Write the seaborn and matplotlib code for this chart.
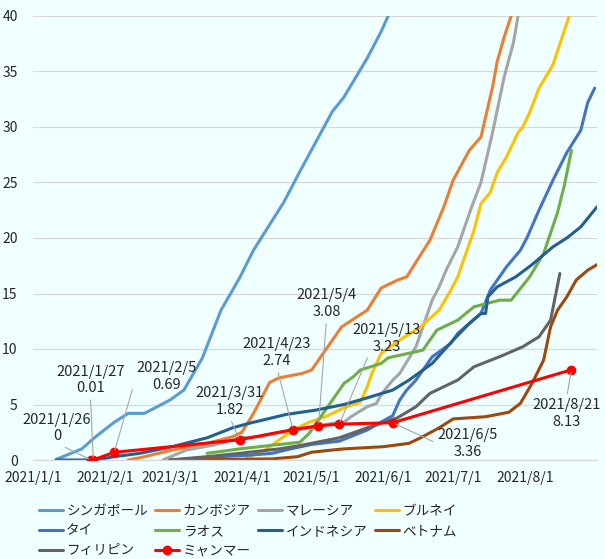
import pandas as pd
import matplotlib
matplotlib.use('Agg')
import matplotlib.pyplot as plt
import seaborn as sns

# ---------------- data ----------------
sg_dates = ['2021-01-11', '2021-01-22', '2021-01-28', '2021-02-05', '2021-02-11', '2021-02-18',
            '2021-03-01', '2021-03-07', '2021-03-15', '2021-03-23', '2021-03-31', '2021-04-06',
            '2021-04-19', '2021-04-26', '2021-05-10', '2021-05-15', '2021-05-25', '2021-05-31',
            '2021-06-03', '2021-06-08']
sg_vals = [0.05, 1.0, 2.1, 3.4, 4.2, 4.2, 5.4, 6.3, 9.2, 13.5, 16.4, 18.9,
           23.2, 26.0, 31.4, 32.7, 36.2, 38.6, 40.0, 42.0]

kh_dates = ['2021-02-11', '2021-02-16', '2021-03-02', '2021-03-17', '2021-03-28', '2021-04-01',
            '2021-04-06', '2021-04-09', '2021-04-13', '2021-04-17', '2021-04-27', '2021-05-01',
            '2021-05-07', '2021-05-14', '2021-05-25', '2021-05-31', '2021-06-07', '2021-06-11',
            '2021-06-21', '2021-06-27', '2021-07-01', '2021-07-08', '2021-07-13', '2021-07-15',
            '2021-07-18', '2021-07-20', '2021-07-23', '2021-07-26', '2021-07-29']
kh_vals = [0.0, 0.2, 0.9, 1.5, 2.1, 2.5, 4.2, 5.4, 7.0, 7.4, 7.8, 8.1,
           9.9, 12.0, 13.5, 15.5, 16.2, 16.5, 19.8, 22.8, 25.2, 27.9, 29.1, 30.9,
           33.6, 35.9, 38.1, 40.0, 42.0]

my_dates = ['2021-02-26', '2021-03-08', '2021-03-20', '2021-03-31', '2021-04-09', '2021-04-15',
            '2021-04-25', '2021-05-10', '2021-05-15', '2021-05-18', '2021-05-25', '2021-05-29',
            '2021-05-31', '2021-06-05', '2021-06-08', '2021-06-15', '2021-06-22', '2021-06-25',
            '2021-06-28', '2021-07-03', '2021-07-09', '2021-07-13', '2021-07-18', '2021-07-23',
            '2021-07-27', '2021-07-29', '2021-07-31']
my_vals = [0.0, 0.9, 1.35, 2.0, 2.1, 2.4, 2.7, 3.3, 3.4, 3.9, 4.8, 5.1,
           5.9, 7.2, 7.8, 10.2, 14.4, 15.6, 17.1, 19.2, 22.8, 25.0, 29.5, 34.5,
           37.6, 40.0, 42.0]

bn_dates = ['2021-04-03', '2021-04-11', '2021-04-17', '2021-04-23', '2021-04-30', '2021-05-07',
            '2021-05-13', '2021-05-16', '2021-05-22', '2021-05-25', '2021-05-27', '2021-05-31',
            '2021-06-02', '2021-06-08', '2021-06-17', '2021-06-25', '2021-06-30', '2021-07-03',
            '2021-07-07', '2021-07-10', '2021-07-13', '2021-07-17', '2021-07-20', '2021-07-24',
            '2021-07-29', '2021-07-31', '2021-08-03', '2021-08-07', '2021-08-13', '2021-08-17',
            '2021-08-20', '2021-08-22']
bn_vals = [0.2, 0.9, 1.8, 2.7, 3.4, 3.9, 4.5, 4.8, 5.2, 6.6, 7.8, 9.6,
           9.9, 10.8, 12.0, 13.5, 15.3, 16.5, 18.9, 20.7, 23.1, 24.1, 25.9, 27.3,
           29.5, 30.0, 31.3, 33.5, 35.6, 38.1, 40.0, 41.5]

th_dates = ['2021-03-01', '2021-03-23', '2021-04-05', '2021-04-14', '2021-04-22', '2021-05-01',
            '2021-05-13', '2021-05-25', '2021-06-05', '2021-06-08', '2021-06-11', '2021-06-15',
            '2021-06-22', '2021-06-30', '2021-07-03', '2021-07-13', '2021-07-17', '2021-07-24',
            '2021-07-30', '2021-08-02', '2021-08-07', '2021-08-13', '2021-08-19', '2021-08-25',
            '2021-08-28', '2021-08-31']
th_vals = [0.0, 0.3, 0.45, 0.6, 1.0, 1.4, 1.7, 2.7, 4.0, 5.4, 6.3, 7.2,
           9.3, 10.5, 11.4, 13.2, 15.3, 17.4, 18.9, 20.1, 22.5, 25.2, 27.7, 29.7,
           32.2, 33.5]

la_dates = ['2021-03-17', '2021-03-31', '2021-04-15', '2021-04-26', '2021-04-30', '2021-05-05',
            '2021-05-10', '2021-05-15', '2021-05-19', '2021-05-22', '2021-05-31', '2021-06-03',
            '2021-06-18', '2021-06-24', '2021-07-03', '2021-07-10', '2021-07-21', '2021-07-26',
            '2021-08-03', '2021-08-09', '2021-08-15', '2021-08-18', '2021-08-21']
la_vals = [0.6, 1.0, 1.35, 1.6, 2.4, 3.9, 5.4, 6.9, 7.5, 8.1, 8.7, 9.2,
           9.9, 11.7, 12.6, 13.8, 14.4, 14.4, 16.5, 18.6, 22.3, 24.8, 27.9]

id_dates = ['2021-01-11', '2021-01-28', '2021-02-05', '2021-02-16', '2021-03-02', '2021-03-17',
            '2021-03-28', '2021-04-04', '2021-04-20', '2021-05-03', '2021-05-15', '2021-05-25',
            '2021-06-05', '2021-06-12', '2021-06-22', '2021-07-01', '2021-07-08', '2021-07-13',
            '2021-07-15', '2021-07-16', '2021-07-20', '2021-07-28', '2021-08-04', '2021-08-13',
            '2021-08-19', '2021-08-25', '2021-09-01']
id_vals = [0.0, 0.0, 0.3, 0.6, 1.2, 2.0, 2.9, 3.3, 4.1, 4.5, 5.0, 5.6,
           6.3, 7.2, 8.7, 10.8, 12.3, 13.2, 13.2, 14.7, 15.6, 16.5, 17.6, 19.2,
           20.0, 21.0, 22.8]

vn_dates = ['2021-03-01', '2021-04-14', '2021-04-25', '2021-05-01', '2021-05-10', '2021-05-15',
            '2021-06-01', '2021-06-12', '2021-06-17', '2021-06-25', '2021-07-01', '2021-07-15',
            '2021-07-25', '2021-07-30', '2021-08-04', '2021-08-09', '2021-08-12', '2021-08-15',
            '2021-08-19', '2021-08-23', '2021-08-28', '2021-09-01']
vn_vals = [0.0, 0.1, 0.3, 0.7, 0.9, 1.0, 1.2, 1.5, 2.0, 2.9, 3.7, 3.9,
           4.3, 5.1, 6.9, 9.0, 12.0, 13.5, 14.7, 16.2, 17.1, 17.6]

ph_dates = ['2021-03-01', '2021-03-17', '2021-03-31', '2021-04-17', '2021-04-26', '2021-05-13',
            '2021-05-25', '2021-06-07', '2021-06-15', '2021-06-21', '2021-06-27', '2021-07-03',
            '2021-07-10', '2021-07-21', '2021-07-31', '2021-08-07', '2021-08-12', '2021-08-16']
ph_vals = [0.0, 0.3, 0.6, 1.0, 1.3, 2.0, 2.9, 3.8, 4.8, 6.0, 6.6, 7.2,
           8.4, 9.3, 10.2, 11.1, 12.6, 16.8]

mm_dates = ['2021-01-26', '2021-01-27', '2021-02-05', '2021-03-31', '2021-04-23',
            '2021-05-04', '2021-05-13', '2021-06-05', '2021-08-21']
mm_vals = [0, 0.01, 0.69, 1.82, 2.74, 3.08, 3.23, 3.36, 8.13]

countries = ['シンガポール', 'カンボジア', 'マレーシア', 'ブルネイ', 'タイ',
             'ラオス', 'インドネシア', 'ベトナム', 'フィリピン', 'ミャンマー']

x_tick_dates = ['2021-01-01', '2021-02-01', '2021-03-01', '2021-04-01', '2021-05-01',
                '2021-06-01', '2021-07-01', '2021-08-01', '2021-09-01']
x_tick_labels = ['2021/1/1', '2021/2/1', '2021/3/1', '2021/4/1', '2021/5/1',
                 '2021/6/1', '2021/7/1', '2021/8/1', '']
y_ticks = [0, 5, 10, 15, 20, 25, 30, 35, 40]

# ---------------- style ----------------
sns.set_theme(style='white')
plt.rcParams['font.family'] = ['Noto Sans CJK JP', 'DejaVu Sans']

BG = '#F0FFFF'
GRID = '#D9D9D9'
TXT = '#262626'
colors = ['#5B9BD5', '#ED7D31', '#A5A5A5', '#FFC000', '#4472C4',
          '#70AD47', '#255E91', '#9E480E', '#636363', '#FF0000']

fig = plt.figure(figsize=(6.05, 5.59), dpi=100, facecolor=BG)
ax = fig.add_axes([33 / 605, 1 - 460 / 559, (597 - 33) / 605, (460 - 16) / 559])
ax.set_facecolor(BG)

all_series = [(sg_dates, sg_vals), (kh_dates, kh_vals), (my_dates, my_vals), (bn_dates, bn_vals),
              (th_dates, th_vals), (la_dates, la_vals), (id_dates, id_vals), (vn_dates, vn_vals),
              (ph_dates, ph_vals), (mm_dates, mm_vals)]

handles = {}
for name, (d, v), c in zip(countries, all_series, colors):
    df = pd.DataFrame({'date': pd.to_datetime(d), 'value': v})
    n_before = len(ax.lines)
    if name == 'ミャンマー':
        sns.lineplot(data=df, x='date', y='value', ax=ax, color=c, lw=2.2,
                     marker='o', markersize=6, markeredgecolor=c, markeredgewidth=1,
                     estimator=None, sort=False, legend=False, zorder=5)
    else:
        sns.lineplot(data=df, x='date', y='value', ax=ax, color=c, lw=2.2,
                     estimator=None, sort=False, legend=False)
    handles[name] = ax.lines[n_before]

# axes
ax.set_xlim(pd.Timestamp('2021-01-01'), pd.Timestamp('2021-09-01'))
ax.set_ylim(0, 40)
ax.set_xticks(pd.to_datetime(x_tick_dates))
ax.set_xticklabels(x_tick_labels)
ax.set_yticks(y_ticks)
ax.set_yticklabels([str(t) for t in y_ticks])
ax.set_xlabel('')
ax.set_ylabel('')
ax.grid(axis='y', color=GRID, lw=0.9)
ax.grid(axis='x', visible=False)
ax.set_axisbelow(True)
for s in ['top', 'right', 'left']:
    ax.spines[s].set_visible(False)
ax.spines['bottom'].set_color(GRID)
ax.spines['bottom'].set_linewidth(0.9)
ax.tick_params(axis='x', direction='out', length=4, width=0.9, color=GRID,
               labelsize=10, labelcolor=TXT, pad=4)
ax.tick_params(axis='y', length=0, labelsize=10, labelcolor=TXT, pad=11)

# data labels for Myanmar
label_offsets = [(-34, 32), (-3, 80), (52, 76), (-10, 38), (-16, 77),
                 (8, 122), (47, 86), (75, -21), (-5, -44)]
label_relpos = [(0.5, 0), (0.5, 0), (0, 0.5), (0.5, 0), (0.5, 0),
                (0.5, 0), (0.25, 0), (0, 0.5), (0.5, 1)]
for d, v, off, rp in zip(mm_dates, mm_vals, label_offsets, label_relpos):
    ts = pd.Timestamp(d)
    txt = f"{ts.year}/{ts.month}/{ts.day}\n{v:g}"
    ax.annotate(txt, xy=(ts, v), xytext=off, textcoords='offset pixels',
                ha='center', va='center', fontsize=10.5, color=TXT, linespacing=1.25,
                arrowprops=dict(arrowstyle='-', color='#A6A6A6', lw=0.8,
                                shrinkA=1, shrinkB=2, relpos=rp),
                zorder=6, annotation_clip=False)

# legend (column-major order to match 4-column row layout)
order = ['シンガポール', 'タイ', 'フィリピン', 'カンボジア', 'ラオス', 'ミャンマー',
         'マレーシア', 'インドネシア', 'ブルネイ', 'ベトナム']
fig.legend([handles[n] for n in order], order, ncol=4, loc='upper left',
           bbox_to_anchor=(39 / 605, 1 - 504 / 559), frameon=False, fontsize=9.8,
           handlelength=1.75, handletextpad=0.25, columnspacing=0.55,
           labelspacing=0.42, borderpad=0, borderaxespad=0, labelcolor=TXT)

fig.savefig('out.png', dpi=100, facecolor=BG)
